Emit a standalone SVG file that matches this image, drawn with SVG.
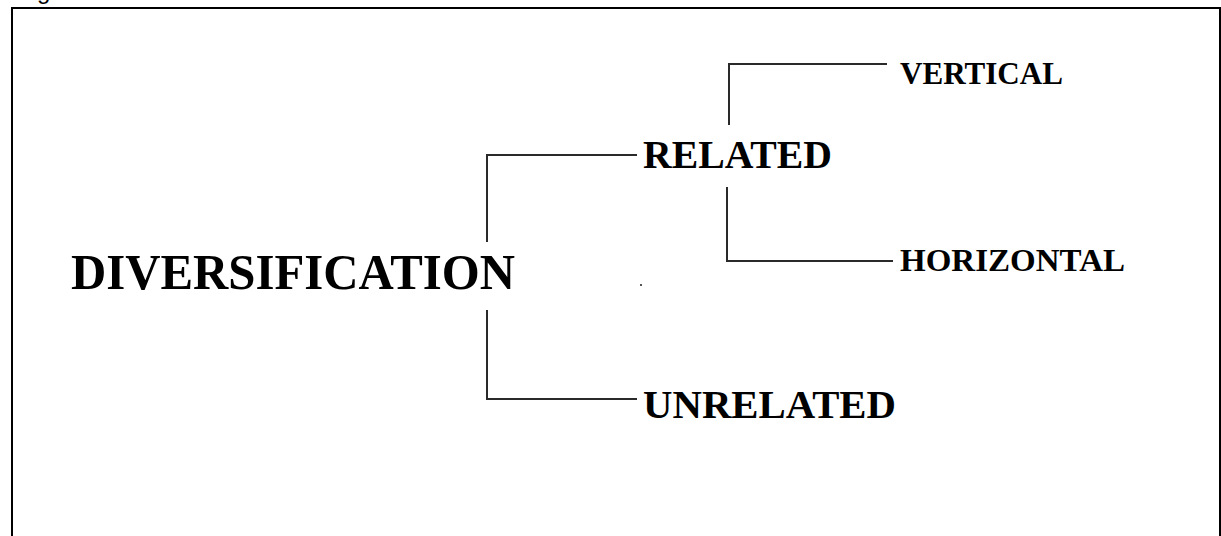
<svg xmlns="http://www.w3.org/2000/svg" width="1221" height="536" viewBox="0 0 1221 536">
  <style>
    .label { font-family: "Liberation Serif", "Times New Roman", serif; font-weight: bold; fill: #000; }
    .wire { fill: none; stroke: #2a2a2a; stroke-width: 2; }
    .frame { fill: none; stroke: #000; stroke-width: 2; }
    .caption { font-family: "Liberation Sans", Arial, sans-serif; font-size: 24px; fill: #000; }
  </style>
  <rect width="1221" height="536" fill="#fff"/>

  <!-- caption text clipped by the top edge -->
  <text class="caption" x="37" y="-1">g</text>

  <!-- outer frame, open at the bottom -->
  <path class="frame" d="M12,536 V8 H1220 V536"/>

  <g id="connectors">
    <path class="wire" d="M487,242 V155 H637"/>
    <path class="wire" d="M487,310 V399 H637"/>
    <path class="wire" d="M729,125 V64 H887"/>
    <path class="wire" d="M727,187 V261 H893"/>
  </g>

  <g id="node-diversification">
    <text class="label" x="71" y="289" font-size="50" textLength="444" lengthAdjust="spacingAndGlyphs">DIVERSIFICATION</text>
  </g>
  <g id="node-related">
    <text class="label" x="643" y="168" font-size="41" textLength="189" lengthAdjust="spacingAndGlyphs">RELATED</text>
  </g>
  <g id="node-unrelated">
    <text class="label" x="643" y="418" font-size="41" textLength="253" lengthAdjust="spacingAndGlyphs">UNRELATED</text>
  </g>
  <g id="node-vertical">
    <text class="label" x="900" y="84" font-size="32" textLength="163" lengthAdjust="spacingAndGlyphs">VERTICAL</text>
  </g>
  <g id="node-horizontal">
    <text class="label" x="900" y="271" font-size="32" textLength="225" lengthAdjust="spacingAndGlyphs">HORIZONTAL</text>
  </g>

  <!-- small speck -->
  <rect x="640" y="284" width="2" height="2" fill="#555"/>
</svg>
